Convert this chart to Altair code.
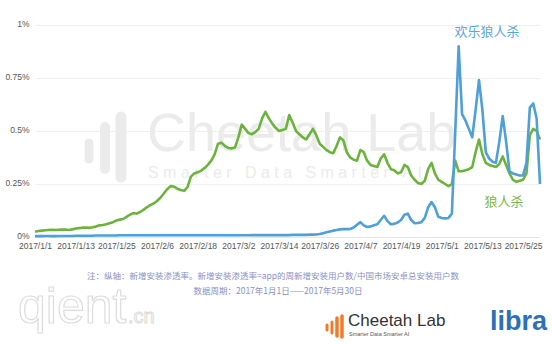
import altair as alt
import pandas as pd

# ---- data ----
dates = [d.strftime("%Y/%m/%d") for d in pd.date_range("2017-01-01", "2017-05-30", freq="D")]

langrensha = [
    0.025, 0.028, 0.030, 0.032, 0.033, 0.034, 0.033,
    0.034, 0.035, 0.035, 0.033, 0.036, 0.040, 0.042,
    0.044, 0.045, 0.043, 0.046, 0.050, 0.055, 0.057,
    0.060, 0.065, 0.070, 0.078, 0.082, 0.085, 0.095,
    0.105, 0.113, 0.110, 0.118, 0.128, 0.140, 0.150,
    0.158, 0.170, 0.185, 0.205, 0.225, 0.240, 0.238,
    0.228, 0.222, 0.218, 0.235, 0.285, 0.300, 0.305,
    0.312, 0.325, 0.340, 0.360, 0.390, 0.440, 0.445,
    0.430, 0.420, 0.418, 0.422, 0.470, 0.530, 0.510,
    0.490, 0.485, 0.495, 0.510, 0.560, 0.590, 0.560,
    0.535, 0.515, 0.500, 0.505, 0.510, 0.575, 0.540,
    0.500, 0.485, 0.470, 0.460, 0.485, 0.510, 0.480,
    0.440, 0.425, 0.410, 0.400, 0.395, 0.430, 0.470,
    0.455, 0.400, 0.375, 0.365, 0.360, 0.410, 0.400,
    0.360, 0.340, 0.335, 0.330, 0.370, 0.390, 0.350,
    0.320, 0.315, 0.300, 0.305, 0.340, 0.330, 0.290,
    0.270, 0.255, 0.250, 0.265, 0.320, 0.350, 0.300,
    0.270, 0.260, 0.250, 0.240, 0.250, 0.360, 0.310,
    0.310, 0.315, 0.320, 0.330, 0.400, 0.460, 0.390,
    0.350, 0.340, 0.335, 0.330, 0.345, 0.380, 0.340,
    0.300, 0.270, 0.260, 0.265, 0.270, 0.300, 0.480,
    0.510, 0.500, 0.460,
]

huanle = [
    0.004, 0.004, 0.004, 0.005, 0.005, 0.004, 0.004, 0.005, 0.005, 0.005, 0.005, 0.005, 0.006, 0.006,
    0.006, 0.006, 0.006, 0.006, 0.007, 0.007, 0.007, 0.007, 0.007, 0.007, 0.007, 0.008, 0.008, 0.008,
    0.008, 0.008, 0.008, 0.008, 0.008, 0.008, 0.008, 0.008, 0.008, 0.008, 0.008, 0.008, 0.008, 0.008,
    0.008, 0.008, 0.008, 0.008, 0.008, 0.008, 0.008, 0.008, 0.008, 0.008, 0.008, 0.008, 0.008, 0.008,
    0.008, 0.008, 0.008, 0.008, 0.008, 0.008, 0.008, 0.008, 0.009, 0.009, 0.009, 0.009, 0.009, 0.009,
    0.009, 0.009, 0.009, 0.009, 0.009, 0.009, 0.010, 0.010, 0.010, 0.010, 0.010, 0.011, 0.011, 0.012,
    0.014, 0.018, 0.022, 0.026, 0.030, 0.033, 0.036, 0.037, 0.037, 0.038, 0.045, 0.058, 0.070, 0.055,
    0.047, 0.050, 0.055, 0.060, 0.080, 0.100, 0.075, 0.060, 0.062, 0.068, 0.080, 0.105, 0.110, 0.080,
    0.065, 0.066, 0.070, 0.090, 0.140, 0.165, 0.140, 0.095, 0.090, 0.088, 0.090, 0.110, 0.500, 0.900,
    0.580, 0.550, 0.510, 0.470, 0.600, 0.740, 0.600, 0.400, 0.370, 0.355, 0.350, 0.450, 0.570, 0.450,
    0.310, 0.300, 0.295, 0.290, 0.290, 0.350, 0.610, 0.630, 0.560, 0.250,
]

series_names = ["狼人杀", "欢乐狼人杀"]
series_colors = ["#6cb33e", "#4f9fd8"]
y_ticks = [0, 0.25, 0.5, 0.75, 1]
x_tick_labels = ["2017/1/1", "2017/1/13", "2017/1/25", "2017/2/6", "2017/2/18", "2017/3/2",
                 "2017/3/14", "2017/3/26", "2017/4/7", "2017/4/19", "2017/5/1", "2017/5/13", "2017/5/25"]

note1 = "注：纵轴：新增安装渗透率。新增安装渗透率=app的周新增安装用户数/中国市场安卓总安装用户数"
note2 = "数据周期：2017年1月1日——2017年5月30日"

rows = []
for d, g, b in zip(dates, langrensha, huanle):
    rows.append({"date": d, "value": g, "series": series_names[0]})
    rows.append({"date": d, "value": b, "series": series_names[1]})
df = pd.DataFrame(rows)

x_values = []
for lbl in x_tick_labels:
    y_, m_, d_ = lbl.split("/")
    x_values.append(alt.DateTime(year=int(y_), month=int(m_), date=int(d_)))

LAT = "Liberation Sans, Noto Sans CJK SC"
CJK = "Noto Sans CJK SC"

x_enc = alt.X(
    "date:T",
    scale=alt.Scale(domain=[alt.DateTime(year=2017, month=1, date=1),
                            alt.DateTime(year=2017, month=5, date=30)]),
    axis=alt.Axis(values=x_values, format="%Y/%-m/%-d", title=None, grid=False,
                  ticks=False, domain=True, domainColor="#e6e6e6", labelFontSize=8.5,
                  labelColor="#555555", labelPadding=4, labelOverlap=False,
                  labelFlush=False, labelFont=LAT),
)
y_enc = alt.Y(
    "value:Q",
    scale=alt.Scale(domain=[0, 1], nice=False),
    axis=alt.Axis(values=y_ticks, labelExpr="datum.value + '%'", title=None,
                  ticks=False, domain=False, gridColor="#f0f0f0", labelFontSize=8.5,
                  labelColor="#555555", labelPadding=6, labelOffset=-1.5, labelFont=LAT),
)
color_enc = alt.Color("series:N", scale=alt.Scale(domain=series_names, range=series_colors),
                      legend=None)

base = alt.Chart(df)
green = base.transform_filter(alt.datum.series == series_names[0]).mark_line(
    strokeWidth=2.6, strokeJoin="round").encode(x=x_enc, y=y_enc, color=color_enc)
blue = base.transform_filter(alt.datum.series == series_names[1]).mark_line(
    strokeWidth=2.6, strokeJoin="round").encode(x=x_enc, y=y_enc, color=color_enc)


def txt(text, x, y, **kw):
    return alt.Chart(alt.Data(values=[{}])).mark_text(text=text, **kw).encode(
        x=alt.value(x), y=alt.value(y))


def bar(x, y1, y2, color, w):
    return alt.Chart(alt.Data(values=[{}])).mark_rule(
        color=color, strokeWidth=w, strokeCap="round").encode(
        x=alt.value(x), y=alt.value(y1), y2=alt.value(y2))


NB = "\u00a0"
wm_sub = (NB * 3).join(NB.join(list(w)) for w in ["Smarter", "Data", "Smarter", "AI"])

wm = "#ebebeb"
watermark = [
    bar(54, 118, 134, wm, 9),
    bar(70, 102, 144, wm, 10),
    bar(86, 92, 152, wm, 11),
    txt("Cheetah Lab", 112, 110, font=LAT, fontSize=54, color=wm, align="left", baseline="middle"),
    txt(wm_sub, 113, 148, font=LAT, fontSize=16, color=wm, align="left", baseline="middle"),
]

labels = [
    txt(series_names[1], 452, 7, font=CJK, fontSize=13, color="#5aa6dc", align="center",
        baseline="middle"),
    txt(series_names[0], 469, 177, font=CJK, fontSize=13, color="#7bb54a", align="center",
        baseline="middle"),
    txt(note1, 238, 251, font=CJK, fontSize=8.5, color="#8a8fc4", align="center",
        baseline="middle"),
    txt(note2, 243, 266, font=CJK, fontSize=8.5, color="#8a8fc4", align="center",
        baseline="middle"),
]

logos = [
    txt("qient", -17, 298, font=LAT, fontSize=50, color="#ffffff", stroke="#dcdcdc",
        strokeWidth=1.2, align="left", baseline="alphabetic"),
    txt(".cn", 93, 298, font=LAT, fontSize=20, color="#ffffff", stroke="#dcdcdc",
        strokeWidth=1, align="left", baseline="alphabetic"),
    bar(292, 300, 305, "#f07b2a", 3),
    bar(297, 297, 308, "#f07b2a", 3),
    bar(302, 293, 311, "#f07b2a", 3.5),
    bar(307, 291, 312, "#f07b2a", 3.5),
    txt("Cheetah Lab", 313, 296, font=LAT, fontSize=17, color="#333333", align="left",
        baseline="middle"),
    txt("Smarter Data Smarter AI", 314, 309, font=LAT, fontSize=5.5, color="#555555",
        align="left", baseline="middle"),
    txt("libra", 455, 297, font=LAT, fontSize=27, fontWeight="bold", color="#2f6fb5",
        align="left", baseline="middle"),
]

chart = alt.layer(*watermark, green, blue, *labels, *logos).properties(
    width=505, height=212,
    autosize=alt.AutoSizeParams(type="none"),
    padding={"left": 35, "top": 25, "right": 12, "bottom": 107},
    background="#ffffff",
).configure_view(stroke=None)

chart.save("out.html", embed_options={"renderer": "svg", "actions": False})
